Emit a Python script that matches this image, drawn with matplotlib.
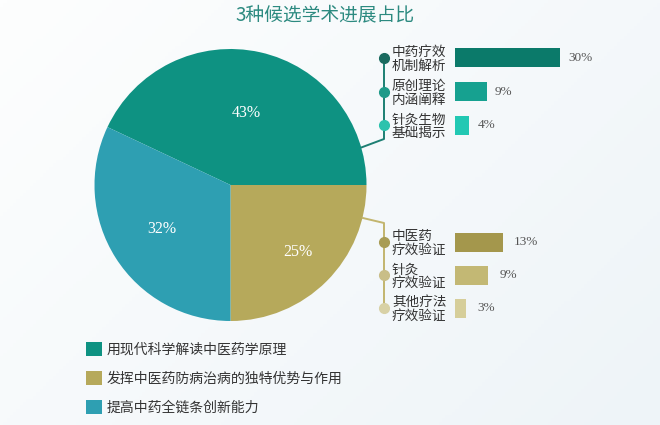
import numpy as np
import matplotlib
matplotlib.use("Agg")
import matplotlib.pyplot as plt
from matplotlib.patches import Patch
from matplotlib.colors import LinearSegmentedColormap

plt.rcParams['font.family'] = ['Noto Sans CJK SC', 'DejaVu Sans']

# ---------------- data ----------------
title = "3种候选学术进展占比"
pie_labels = ["用现代科学解读中医药学原理", "发挥中医药防病治病的独特优势与作用", "提高中药全链条创新能力"]
pie_values = [43, 25, 32]
pie_colors = ["#0e9282", "#b6a95b", "#2e9fb2"]

top_cats = ["中药疗效\n机制解析", "原创理论\n内涵阐释", "针灸生物\n基础揭示"]
top_values = [30, 9, 4]
top_colors = ["#0b7a6a", "#16a190", "#22c8b3"]
top_dot_colors = ["#1a6a5f", "#1f9a89", "#2cc2ad"]

bot_cats = ["中医药\n疗效验证", "针灸\n疗效验证", "其他疗法\n疗效验证"]
bot_values = [13, 9, 3]
bot_colors = ["#a4974c", "#c3b874", "#d6ce9a"]
bot_dot_colors = ["#a89c55", "#c9be88", "#d8d1a6"]

W, H = 660, 425
fig = plt.figure(figsize=(W / 100, H / 100), dpi=100)

# background gradient
bg = fig.add_axes([0, 0, 1, 1], zorder=0)
cmap = LinearSegmentedColormap.from_list("bg", ["#fdfefe", "#eef4f8"])
gx, gy = np.meshgrid(np.linspace(0, 1, 200), np.linspace(0, 1, 130))
bg.imshow(gx * 0.6 + gy * 0.4, cmap=cmap, aspect="auto", extent=[0, 1, 0, 1], origin="upper")
bg.set_axis_off()

def fx(px):
    return px / W

def fy(py):
    return 1 - py / H

# ---------------- pie ----------------
cx, cy, R = 230.5, 185, 136
pax = fig.add_axes([fx(cx - R), fy(cy + R), 2 * R / W, 2 * R / H], zorder=1)
start = 360 * pie_values[0] / sum(pie_values)
wedges, _, autotexts = pax.pie(pie_values, colors=pie_colors, startangle=start, counterclock=False,
                                radius=1, autopct=lambda p: f"{p:.0f}%", pctdistance=0.6,
                                wedgeprops=dict(linewidth=0))
pax.set_xlim(-1, 1)
pax.set_ylim(-1, 1)
pax.set_axis_off()
dists = [0.54, 0.7, 0.6]
for w, t, d in zip(wedges, autotexts, dists):
    a = np.deg2rad((w.theta1 + w.theta2) / 2)
    t.set_position((d * np.cos(a), d * np.sin(a)))
    t.set_color("white")
    t.set_fontsize(11.5)
    t.set_family("Liberation Serif")

# ---------------- overlay (pixel coords) ----------------
ov = fig.add_axes([0, 0, 1, 1], zorder=2)
ov.set_xlim(0, W)
ov.set_ylim(H, 0)
ov.patch.set_alpha(0)
ov.set_axis_off()

ov.text(325, 15, title, ha="center", va="center", fontsize=13.5, color="#2c8a80")

spine_x = 384
top_ys = [58, 92, 125]
bot_ys = [242, 275, 308]

# connectors
def edge(angle_deg):
    a = np.deg2rad(angle_deg)
    return cx + R * np.cos(a), cy - R * np.sin(a)

ex, ey = edge(16)
ov.plot([ex, spine_x, spine_x], [ey, 139, top_ys[0]], color="#1d7f73", lw=1.4, solid_capstyle="round")
ex, ey = edge(-14)
ov.plot([ex, spine_x, spine_x], [ey, 223, bot_ys[-1]], color="#c2b56e", lw=1.4, solid_capstyle="round")

for y, c in zip(top_ys, top_dot_colors):
    ov.plot(spine_x, y, "o", ms=7, color=c, zorder=3)
for y, c in zip(bot_ys, bot_dot_colors):
    ov.plot(spine_x, y, "o", ms=7, color=c, zorder=3)

for y, lab in zip(top_ys, top_cats):
    ov.text(392, y + 1, lab, ha="left", va="center", fontsize=9.8, color="#333333", linespacing=0.95)
for y, lab in zip(bot_ys, bot_cats):
    ov.text(392, y + 1, lab, ha="left", va="center", fontsize=9.8, color="#333333", linespacing=0.95)

# ---------------- bars ----------------
def bar_axes(yc, px_per_unit, values, colors, label_x_off):
    pitch = yc[1] - yc[0]
    top = yc[0] - pitch / 2
    bottom = yc[-1] + pitch / 2
    left, width = 455, 180
    bax = fig.add_axes([fx(left), fy(bottom), fx(width), (bottom - top) / H], zorder=2)
    bax.patch.set_alpha(0)
    pos = np.arange(len(values))
    bars = bax.barh(pos, values, height=19 / pitch, color=colors)
    bax.set_xlim(0, width / px_per_unit)
    bax.set_ylim(len(values) - 0.5, -0.5)
    bax.set_axis_off()
    for b, v in zip(bars, values):
        bax.annotate(f"{v}%", (b.get_width(), b.get_y() + b.get_height() / 2),
                     xytext=(label_x_off, 0), textcoords="offset points",
                     ha="left", va="center", fontsize=9.5, color="#555555",
                     family="Liberation Serif")
    return bax

bar_axes(top_ys, 3.5, top_values, top_colors, 6)
bar_axes(bot_ys, 3.7, bot_values, bot_colors, 8)

# ---------------- legend ----------------
handles = [Patch(facecolor=c, edgecolor="none") for c in pie_colors]
fig.legend(handles, pie_labels, loc="upper left", bbox_to_anchor=(fx(86), fy(342)),
           frameon=False, fontsize=10, handlelength=1.15, handleheight=1.15,
           handletextpad=0.35, labelspacing=1.05, borderpad=0, borderaxespad=0,
           labelcolor="#333333")

fig.savefig("out.png", dpi=100)
